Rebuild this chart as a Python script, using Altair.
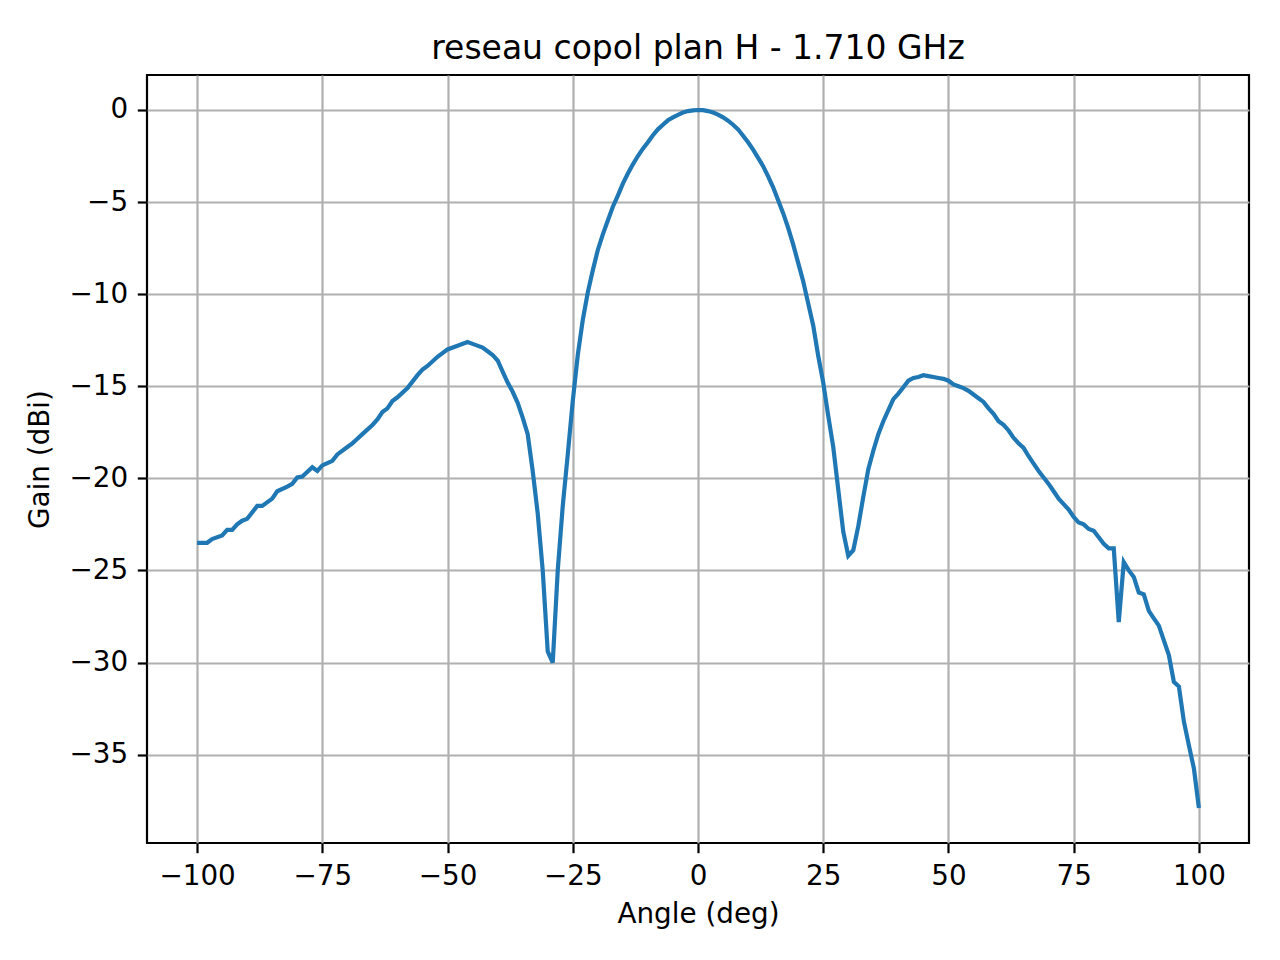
import altair as alt
import pandas as pd

# angle (deg) and gain (dBi)
angles = [
    -100, -98, -97, -95, -94, -93, -92, -91, -90, -88, -87, -85, -84, -82, -81,
    -80, -79, -77, -76, -75, -73, -72, -70, -69, -68, -67, -65, -64, -63, -62,
    -61, -60, -58, -56, -55, -54, -52, -50, -48, -46, -45, -43, -42, -41, -40,
    -39, -38, -37, -36, -35, -34, -33, -32, -31, -30, -29, -28, -27, -26, -25,
    -24, -23, -22, -21, -20, -19, -18, -17, -16, -15, -14, -13, -12, -11, -10,
    -9, -8, -7, -6, -5, -4, -3, -2, -1, 0, 1, 2, 3, 4, 5,
    6, 7, 8, 9, 10, 11, 12, 13, 14, 15, 16, 17, 18, 19, 20,
    21, 22, 23, 24, 25, 26, 27, 28, 29, 30, 31, 32, 33, 34, 35,
    36, 37, 38, 39, 40, 41, 42, 43, 44, 45, 46, 47, 48, 49, 50,
    51, 52, 53, 54, 55, 56, 57, 58, 59, 60, 61, 62, 63, 64, 65,
    66, 67, 68, 69, 70, 71, 72, 73, 74, 75, 76, 77, 78, 79, 80,
    81, 82, 83, 84, 85, 86, 87, 88, 89, 90, 91, 92, 93, 94, 95,
    96, 97, 98, 99, 100,
]
gains = [
    -23.5, -23.5, -23.3, -23.1, -22.8, -22.8, -22.5, -22.3, -22.2, -21.5, -21.5, -21.1, -20.7, -20.45, -20.3,
    -19.95, -19.9, -19.4, -19.6, -19.3, -19.05, -18.7, -18.3, -18.1, -17.85, -17.6, -17.1, -16.8, -16.4, -16.2,
    -15.8, -15.6, -15.1, -14.4, -14.1, -13.9, -13.4, -13.0, -12.8, -12.6, -12.7, -12.9, -13.1, -13.3, -13.6,
    -14.2, -14.8, -15.3, -15.9, -16.7, -17.6, -19.6, -21.9, -25.0, -29.4, -30.0, -25.0, -21.5, -18.7, -15.8,
    -13.3, -11.4, -9.9, -8.7, -7.6, -6.75, -6.0, -5.25, -4.65, -4.0, -3.45, -2.95, -2.5, -2.1, -1.75,
    -1.37, -1.05, -0.8, -0.56, -0.4, -0.26, -0.14, -0.06, -0.02, 0.0, -0.01, -0.06, -0.14, -0.25, -0.4,
    -0.58, -0.8, -1.05, -1.4, -1.75, -2.15, -2.6, -3.05, -3.6, -4.2, -4.9, -5.6, -6.4, -7.3, -8.3,
    -9.3, -10.5, -11.7, -13.35, -14.8, -16.6, -18.3, -20.6, -22.9, -24.2, -23.9, -22.6, -21.0, -19.5, -18.5,
    -17.6, -16.9, -16.3, -15.7, -15.4, -15.05, -14.7, -14.55, -14.5, -14.4, -14.45, -14.5, -14.55, -14.6, -14.7,
    -14.9, -15.0, -15.1, -15.25, -15.45, -15.65, -15.85, -16.2, -16.5, -16.9, -17.1, -17.4, -17.8, -18.1, -18.35,
    -18.8, -19.2, -19.6, -19.95, -20.3, -20.7, -21.1, -21.4, -21.7, -22.1, -22.4, -22.5, -22.75, -22.85, -23.2,
    -23.55, -23.8, -23.8, -27.8, -24.55, -25.0, -25.35, -26.2, -26.3, -27.2, -27.6, -28.0, -28.8, -29.6, -31.05,
    -31.3, -33.2, -34.5, -35.75, -37.9,
]
x_ticks = [-100, -75, -50, -25, 0, 25, 50, 75, 100]
y_ticks = [0, -5, -10, -15, -20, -25, -30, -35]

data = pd.DataFrame({'angle': angles, 'gain': gains})

minus = "replace(datum.label, '-', '\u2212')"

chart = alt.Chart(data).mark_line(color='#1f77b4', strokeWidth=4.2).encode(
    x=alt.X('angle:Q', title='Angle (deg)',
            scale=alt.Scale(domain=[-110, 110], nice=False, zero=False),
            axis=alt.Axis(values=x_ticks, labelExpr=minus, titlePadding=10)),
    y=alt.Y('gain:Q', title='Gain (dBi)',
            scale=alt.Scale(domain=[-39.8, 1.9], nice=False, zero=False),
            axis=alt.Axis(values=y_ticks, labelExpr=minus, titlePadding=14)),
).properties(
    width=1102,
    height=768,
    autosize=alt.AutoSizeParams(type='none'),
    padding={'left': 139, 'top': 67, 'right': 23, 'bottom': 109},
    title=alt.TitleParams('reseau copol plan H - 1.710 GHz', fontSize=33, fontWeight='normal',
                          font='DejaVu Sans', color='black', anchor='middle', offset=9),
).configure_view(
    stroke='black',
    strokeWidth=2.2
).configure_axis(
    domain=False,
    grid=True,
    gridColor='#b0b0b0',
    gridWidth=2.2,
    tickColor='black',
    tickWidth=2.2,
    tickSize=9.7,
    labelPadding=9.7,
    labelFont='DejaVu Sans',
    labelFontSize=27.8,
    labelColor='black',
    titleFont='DejaVu Sans',
    titleFontSize=27.8,
    titleFontWeight='normal',
    titleColor='black'
)

chart.save("out.html", embed_options={"renderer": "svg", "actions": False})
